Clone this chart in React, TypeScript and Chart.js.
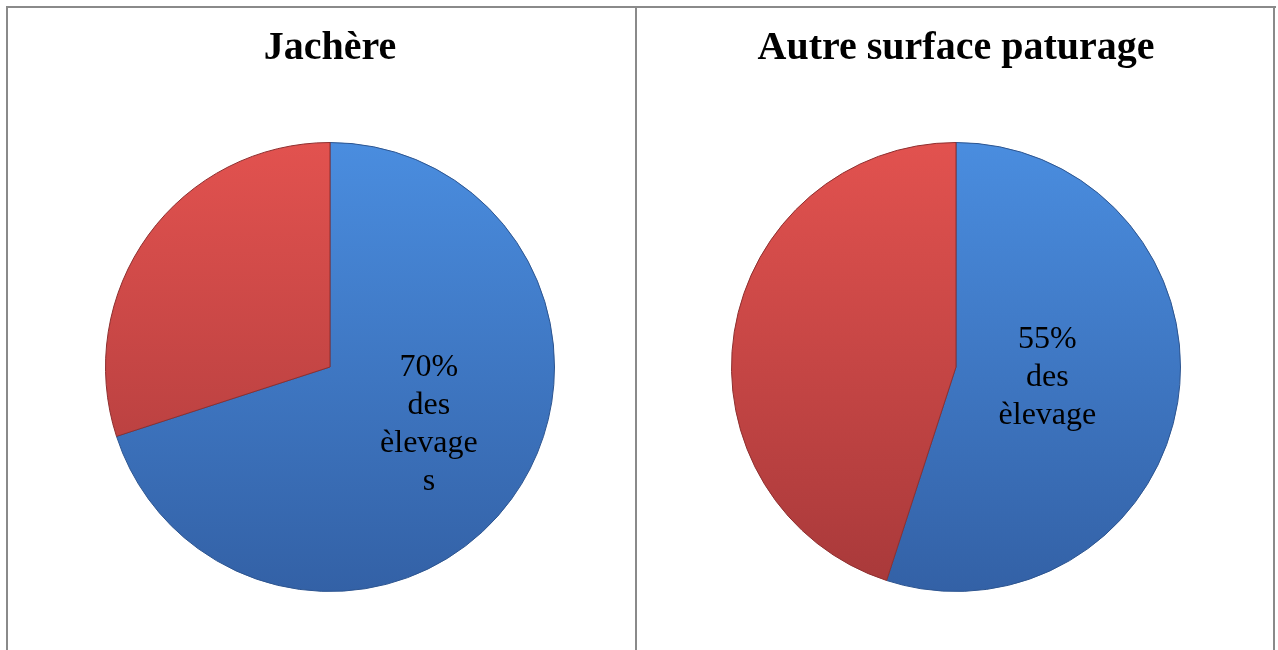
import React, { useEffect, useRef } from "react";
import { Chart, registerables } from "chart.js";

Chart.register(...registerables);

const categories = ["Élevages concernés", "Autres élevages"];
const jachereValues = [70, 30];
const paturageValues = [55, 45];
const jachereTitle = "Jachère";
const paturageTitle = "Autre surface paturage";
const jachereLabel = ["70%", "des", "èlevage", "s"];
const paturageLabel = ["55%", "des", "èlevage"];

const BLUE_TOP = "#4a8ddf";
const BLUE_BOTTOM = "#3361a6";
const RED_TOP = "#e2524f";
const RED_BOTTOM = "#a8393a";

function makeGradient(ctx: any, top: string, bottom: string) {
  const chart = ctx.chart;
  const area = chart.chartArea;
  if (!area) return top;
  const g = chart.ctx.createLinearGradient(0, area.top, 0, area.bottom);
  g.addColorStop(0, top);
  g.addColorStop(1, bottom);
  return g;
}

const labelPlugin = {
  id: "sliceLabel",
  afterDatasetsDraw(chart: any, _args: any, opts: any) {
    const meta = chart.getDatasetMeta(0);
    const arc = meta.data[0];
    if (!arc) return;
    const { x, y, startAngle, endAngle, outerRadius } = arc.getProps(
      ["x", "y", "startAngle", "endAngle", "outerRadius"],
      true
    );
    const mid = (startAngle + endAngle) / 2 + (opts.angleShift || 0);
    const r = outerRadius * opts.factor;
    const cx = x + Math.cos(mid) * r;
    const cy = y + Math.sin(mid) * r;
    const lines: string[] = opts.lines;
    const lh = 38;
    const ctx = chart.ctx;
    ctx.save();
    ctx.fillStyle = "#000";
    ctx.font = "32px 'Liberation Serif', serif";
    ctx.textAlign = "center";
    ctx.textBaseline = "middle";
    const startY = cy - ((lines.length - 1) * lh) / 2;
    lines.forEach((t, i) => ctx.fillText(t, cx, startY + i * lh));
    ctx.restore();
  },
};

function PieChart(props: {
  values: number[];
  title: string;
  lines: string[];
  factor: number;
  angleShift: number;
  padding: { left: number; right: number; top: number; bottom: number };
  style: React.CSSProperties;
  width: number;
  height: number;
}) {
  const ref = useRef<HTMLCanvasElement | null>(null);
  useEffect(() => {
    if (!ref.current) return;
    const chart = new Chart(ref.current, {
      type: "pie",
      data: {
        labels: categories,
        datasets: [
          {
            data: props.values,
            backgroundColor: (ctx: any) =>
              ctx.dataIndex === 0
                ? makeGradient(ctx, BLUE_TOP, BLUE_BOTTOM)
                : makeGradient(ctx, RED_TOP, RED_BOTTOM),
            borderColor: ["#2d5590", "#8e2f2f"],
            borderWidth: 1,
            hoverOffset: 0,
          },
        ],
      },
      options: {
        responsive: false,
        animation: false,
        layout: { padding: props.padding },
        plugins: {
          legend: { display: false },
          tooltip: { enabled: false },
          title: {
            display: true,
            text: props.title,
            color: "#000",
            font: { family: "'Liberation Serif', serif", size: 40, weight: "bold", lineHeight: 1.2 },
            padding: { top: 0, bottom: 69 },
          },
          sliceLabel: { lines: props.lines, factor: props.factor, angleShift: props.angleShift },
        } as any,
      },
      plugins: [labelPlugin],
    });
    return () => chart.destroy();
  }, []);
  return <canvas ref={ref} width={props.width} height={props.height} style={props.style} />;
}

export default function App() {
  const border = "#8a8a8a";
  return (
    <div style={{ position: "fixed", left: 0, top: 0, width: 1278, height: 650, background: "#fff", overflow: "hidden" }}>
      <div style={{ position: "absolute", left: 6, top: 6, width: 1270, height: 2, background: border }} />
      <div style={{ position: "absolute", left: 6, top: 6, width: 2, height: 644, background: border }} />
      <div style={{ position: "absolute", left: 635, top: 6, width: 2, height: 644, background: border }} />
      <div style={{ position: "absolute", left: 1273, top: 6, width: 2, height: 644, background: border }} />
      <PieChart
        values={jachereValues}
        title={jachereTitle}
        lines={jachereLabel}
        factor={0.51}
        angleShift={-0.1}
        width={627}
        height={642}
        padding={{ left: 97, right: 80, top: 17, bottom: 58 }}
        style={{ position: "absolute", left: 8, top: 8 }}
      />
      <PieChart
        values={paturageValues}
        title={paturageTitle}
        lines={paturageLabel}
        factor={0.41}
        angleShift={-0.04}
        width={636}
        height={642}
        padding={{ left: 94, right: 92, top: 17, bottom: 58 }}
        style={{ position: "absolute", left: 637, top: 8 }}
      />
    </div>
  );
}
